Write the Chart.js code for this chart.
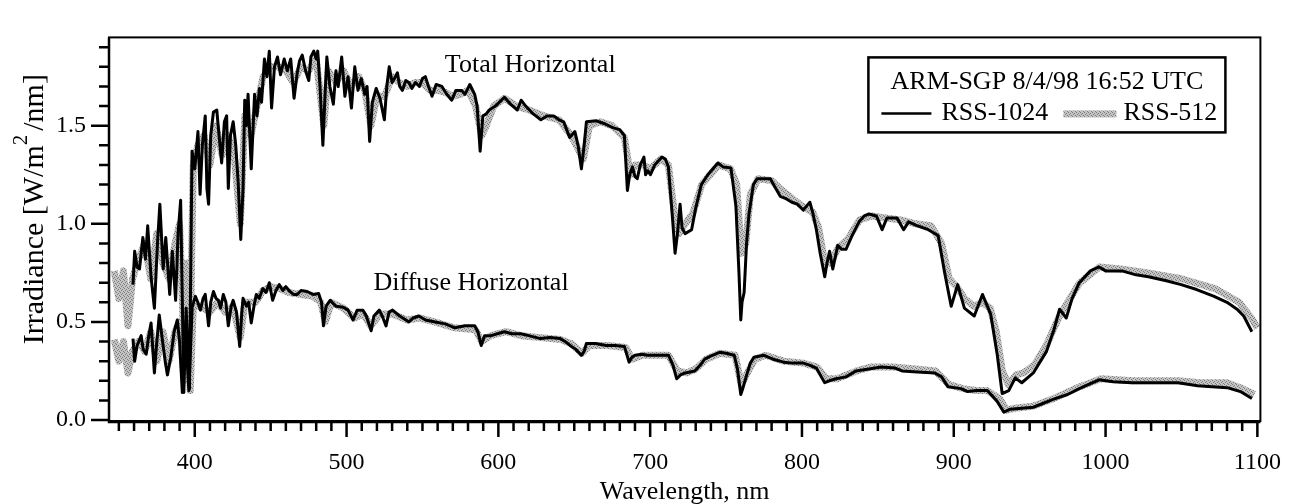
<!DOCTYPE html>
<html>
<head>
<meta charset="utf-8">
<script src="https://cdn.jsdelivr.net/npm/chart.js@4.4.1/dist/chart.umd.min.js"></script>
<style>
  html, body { margin: 0; padding: 0; background: #fff; }
  #wrap { width: 1308px; height: 504px; }
</style>
</head>
<body>
<div id="wrap"><canvas id="spectra" width="1308" height="504"></canvas></div>
<script>
// RSS-1024, total horizontal (nm, W/m2/nm)
const totalWl1024 = [
  359.3, 360.4, 362, 363.6, 365.8, 367.5, 369, 371.2, 373.4, 375.5, 377, 379.2, 380.9, 383.5, 385.2, 387.4, 389, 390.7,
  392.8, 394.3, 396.5, 398.2, 400, 402.1, 403.5, 405, 406.9, 408, 409.1, 410.5, 412.3, 414.5, 416, 417.7, 419.5, 421,
  422.1, 423.5, 425.3, 427, 428.6, 430.3, 431.8, 432.9, 434, 435.1, 437.2, 439.4, 441, 442.6, 444, 445.9, 447.5, 449.1,
  450.6, 452.5, 454.5, 456.5, 458.9, 461, 463.2, 465.4, 467.5, 469, 470.8, 473, 475.1, 476.5, 478.4, 480, 481, 482.5,
  484.4, 485.5, 487, 489, 491.3, 493, 494.5, 496.8, 498.9, 501, 503.2, 505.4, 507.5, 509.7, 512, 513.5, 515.2, 517,
  519.5, 522, 524.9, 526.5, 528.1, 530, 531.5, 533.5, 535, 536.8, 539, 541.1, 543, 545.4, 548, 550, 551.9, 554, 556.3,
  559, 562.8, 566, 569.3, 572, 575.8, 578, 581.2, 584.4, 586, 588, 589.8, 592, 594, 598, 604, 608, 612.5, 615, 618,
  623, 628, 632, 636.4, 640, 643, 647, 650.4, 652.5, 654.7, 656.5, 658, 664.5, 670, 675.3, 680, 683, 685, 686.5, 688.3,
  690, 691.5, 693.5, 695.9, 697, 698.5, 700.2, 703, 707.8, 710, 712, 714.5, 716.4, 718, 719.7, 721, 723, 727.3, 730,
  733.7, 738, 744.6, 748, 753.2, 756.5, 758.5, 759.7, 760.5, 761.9, 763.5, 765.1, 768, 770.5, 775, 779.2, 782, 785.7,
  789, 793.3, 797, 800.8, 803, 805.2, 807, 809.5, 812, 815, 816.5, 818.2, 820.3, 823.6, 826, 829, 833, 837.6, 841,
  844.1, 849, 852.8, 856, 862.6, 867, 870.2, 876, 883.2, 889.7, 894, 898.3, 902.6, 907, 913.5, 918.9, 924.3, 928.6,
  931.9, 936.2, 940.5, 944.8, 952.4, 961.1, 966, 969.7, 974.1, 978, 982.7, 990, 995.7, 1000, 1010.9, 1020, 1028.2,
  1040, 1049.8, 1060, 1071.5, 1080, 1086.6, 1091, 1096.4
];
const totalIrr1024 = [
  0.69, 0.86, 0.78, 0.77, 0.93, 0.82, 0.99, 0.73, 0.57, 0.91, 1.10, 0.77, 0.93, 0.64, 0.86, 0.61, 0.95, 1.12,
  0.14, 0.57, 0.16, 1.37, 1.28, 1.47, 1.15, 1.40, 1.55, 1.18, 1.10, 1.45, 1.57, 1.58, 1.45, 1.31, 1.52, 1.55,
  1.18, 1.45, 1.52, 1.40, 1.21, 0.92, 1.18, 1.63, 1.50, 1.66, 1.28, 1.66, 1.55, 1.69, 1.62, 1.84, 1.75, 1.88,
  1.59, 1.80, 1.85, 1.76, 1.84, 1.78, 1.84, 1.64, 1.77, 1.83, 1.86, 1.78, 1.73, 1.85, 1.88, 1.84, 1.88, 1.70,
  1.40, 1.60, 1.85, 1.70, 1.61, 1.78, 1.70, 1.85, 1.65, 1.75, 1.59, 1.80, 1.68, 1.74, 1.66, 1.70, 1.42, 1.62,
  1.69, 1.64, 1.53, 1.70, 1.80, 1.72, 1.74, 1.77, 1.70, 1.68, 1.73, 1.72, 1.69, 1.72, 1.70, 1.74, 1.75, 1.70, 1.65,
  1.71, 1.70, 1.66, 1.63, 1.68, 1.68, 1.66, 1.71, 1.66, 1.60, 1.37, 1.55, 1.56, 1.58, 1.60, 1.645, 1.61, 1.58, 1.63, 1.60,
  1.56, 1.53, 1.55, 1.55, 1.53, 1.52, 1.44, 1.47, 1.40, 1.28, 1.40, 1.52, 1.525, 1.51, 1.49, 1.48, 1.45, 1.17, 1.25, 1.29,
  1.24, 1.23, 1.30, 1.34, 1.25, 1.27, 1.25, 1.30, 1.34, 1.33, 1.29, 1.05, 0.85, 0.95, 1.10, 0.98, 0.95, 0.97, 1.08,
  1.20, 1.25, 1.31, 1.29, 1.285, 1.09, 0.75, 0.51, 0.60, 0.65, 0.90, 1.05, 1.20, 1.23, 1.23, 1.23, 1.19, 1.14,
  1.13, 1.11, 1.10, 1.07, 1.09, 1.11, 1.06, 0.97, 0.85, 0.73, 0.80, 0.86, 0.77, 0.89, 0.87, 0.87, 0.94, 1.01, 1.04,
  1.05, 1.04, 0.97, 1.03, 1.03, 0.97, 1.01, 0.99, 0.97, 0.94, 0.75, 0.58, 0.69, 0.57, 0.53, 0.64, 0.54, 0.335,
  0.135, 0.15, 0.215, 0.19, 0.24, 0.35, 0.46, 0.565, 0.52, 0.62, 0.70, 0.76, 0.78, 0.76, 0.76, 0.74, 0.73,
  0.71, 0.69, 0.665, 0.63, 0.60, 0.565, 0.53, 0.45
];

// RSS-1024, diffuse horizontal
const diffWl1024 = [
  359.3, 360.4, 362, 364.7, 366, 368, 369.5, 371.2, 373.4, 375, 376.6, 378.8, 380.5, 382, 384.2, 386.4, 388.5, 390,
  391.8, 393, 394, 395, 396.1, 398.3, 400.4, 402, 403.7, 405.5, 406.9, 409.1, 410.5, 412.3, 414, 415.6, 417, 418.8,
  420.5, 422.1, 424, 425.3, 427.5, 429.6, 431, 431.8, 434, 435.5, 437.2, 439, 440.5, 442.5, 444.8, 447, 449.1, 451.3,
  453.5, 455.6, 458, 460, 462.1, 465, 467.5, 470, 474, 478, 481.6, 483.5, 484.8, 486.5, 489.2, 493, 497.8, 501, 504.3,
  507, 510.8, 513, 516.2, 518, 521.6, 524, 526, 528, 530.3, 535, 541.1, 544, 547.6, 552, 558.4, 565, 571.4, 578, 584.4,
  586.5, 588.7, 590.9, 595.2, 603.9, 609, 614.7, 620, 627.7, 634, 640.7, 644, 647.2, 651, 654.7, 656.5, 658, 664, 671,
  677, 683, 686.1, 688, 690, 694.8, 698, 701.3, 706, 712.1, 715, 717.5, 720, 723, 729.4, 733, 735.9, 741, 745.7, 750,
  755.4, 757.5, 759.7, 761, 764, 766, 768.4, 774.9, 781, 787.9, 794, 800.8, 805, 809.5, 812, 815, 818, 822.5, 829,
  835.5, 844.1, 852, 861.5, 865.8, 876, 887.5, 892, 896.1, 904.8, 909.1, 915, 922.1, 928.6, 933, 937.3, 952.4, 965.4,
  975, 982.7, 990, 995.7, 1005, 1017.4, 1030, 1047.7, 1060.6, 1070, 1080.1, 1088.8, 1096.4
];
const diffIrr1024 = [
  0.415, 0.30, 0.38, 0.43, 0.36, 0.335, 0.42, 0.495, 0.24, 0.40, 0.535, 0.40, 0.30, 0.23, 0.32, 0.45, 0.51, 0.40,
  0.14, 0.35, 0.46, 0.30, 0.15, 0.575, 0.63, 0.60, 0.56, 0.62, 0.64, 0.48, 0.60, 0.655, 0.62, 0.61, 0.57, 0.64,
  0.60, 0.48, 0.58, 0.61, 0.55, 0.375, 0.55, 0.62, 0.58, 0.60, 0.495, 0.58, 0.64, 0.62, 0.67, 0.65, 0.70, 0.61,
  0.66, 0.69, 0.66, 0.68, 0.66, 0.64, 0.64, 0.66, 0.655, 0.64, 0.645, 0.60, 0.48, 0.58, 0.61, 0.58, 0.575, 0.56, 0.51,
  0.56, 0.56, 0.53, 0.455, 0.53, 0.56, 0.52, 0.48, 0.55, 0.56, 0.53, 0.50, 0.52, 0.53, 0.51, 0.50, 0.49, 0.47, 0.48, 0.48,
  0.45, 0.38, 0.43, 0.43, 0.45, 0.44, 0.44, 0.43, 0.415, 0.42, 0.415, 0.40, 0.38, 0.36, 0.33, 0.35, 0.39, 0.39, 0.38,
  0.38, 0.375, 0.295, 0.32, 0.33, 0.335, 0.33, 0.33, 0.33, 0.33, 0.28, 0.21, 0.23, 0.24, 0.25, 0.28, 0.31, 0.33, 0.345, 0.34,
  0.33, 0.26, 0.13, 0.16, 0.24, 0.29, 0.32, 0.33, 0.31, 0.295, 0.29, 0.29, 0.28, 0.265, 0.23, 0.19, 0.20, 0.21, 0.22,
  0.25, 0.26, 0.27, 0.265, 0.25, 0.245, 0.24, 0.22, 0.17, 0.16, 0.145, 0.15, 0.15, 0.095, 0.04, 0.055, 0.065, 0.105,
  0.13, 0.16, 0.185, 0.205, 0.195, 0.19, 0.19, 0.19, 0.175, 0.17, 0.165, 0.145, 0.11
];

// RSS-512, total horizontal
const totalWl512 = [
  347, 350, 353, 356, 359, 363, 367, 371, 375, 379, 383, 387, 390, 393, 395, 397, 399, 402, 406, 410, 414, 418, 422,
  426, 430, 433, 437, 441, 445, 450, 455, 460, 465, 470, 475, 480, 485, 488, 493, 498, 503, 508, 512, 516, 520, 525,
  530, 535, 540, 545, 550, 555, 560, 565, 570, 575, 580, 585, 589, 592, 597, 604, 612, 620, 630, 640, 647, 650, 656,
  660, 667, 675, 683, 687, 690, 695, 700, 707, 712, 716, 719, 723, 728, 734, 745, 753, 757, 760, 763, 766, 771, 780,
  787, 795, 802, 807, 811, 815, 819, 824, 830, 838, 846, 855, 865, 875, 885, 892, 897, 902, 907, 913, 919, 924, 928,
  932, 936, 941, 946, 953, 961, 969, 975, 983, 996, 1010, 1028, 1050, 1072, 1088, 1096, 1100
];
const totalIrr512 = [
  0.76, 0.62, 0.76, 0.48, 0.72, 0.82, 0.90, 0.72, 0.95, 0.80, 0.72, 0.90, 1.00, 0.35, 0.80, 0.40, 1.30, 1.40, 1.45, 1.30, 1.50, 1.35, 1.45,
  1.35, 1.00, 1.55, 1.45, 1.60, 1.75, 1.80, 1.80, 1.78, 1.72, 1.80, 1.78, 1.84, 1.50, 1.78, 1.72, 1.78, 1.70, 1.75, 1.68, 1.50, 1.65, 1.65,
  1.75, 1.72, 1.70, 1.72, 1.72, 1.68, 1.68, 1.67, 1.65, 1.66, 1.68, 1.60, 1.45, 1.50, 1.60, 1.64, 1.60, 1.58, 1.55, 1.53, 1.46, 1.42, 1.33,
  1.50, 1.52, 1.50, 1.44, 1.25, 1.30, 1.30, 1.28, 1.33, 1.30, 1.05, 0.95, 1.00, 1.05, 1.20, 1.30, 1.28, 1.20, 0.85, 0.90, 1.15, 1.23, 1.22,
  1.17, 1.12, 1.08, 1.06, 0.98, 0.80, 0.80, 0.88, 0.92, 1.02, 1.04, 1.03, 1.02, 1.00, 0.99, 0.90, 0.72, 0.68, 0.62, 0.58, 0.60, 0.57, 0.45,
  0.25, 0.18, 0.23, 0.24, 0.28, 0.38, 0.52, 0.60, 0.70, 0.78, 0.77, 0.75, 0.72, 0.67, 0.60, 0.52, 0.47
];

// RSS-512, diffuse horizontal
const diffWl512 = [
  347, 350, 353, 356, 359, 363, 367, 371, 375, 379, 383, 387, 390, 393, 395, 397, 399, 404, 410, 415, 420, 425, 430,
  433, 440, 445, 450, 456, 462, 470, 478, 483, 486, 490, 498, 505, 511, 516, 522, 530, 540, 548, 558, 571, 585, 589,
  595, 605, 615, 628, 641, 648, 655, 660, 672, 684, 688, 695, 702, 712, 718, 724, 730, 737, 746, 756, 760, 764, 769,
  776, 788, 801, 810, 816, 823, 836, 845, 860, 875, 888, 897, 906, 915, 922, 930, 935, 940, 952, 966, 983, 997, 1018,
  1048, 1062, 1080, 1090, 1098
];
const diffIrr512 = [
  0.41, 0.30, 0.40, 0.24, 0.35, 0.40, 0.35, 0.45, 0.30, 0.45, 0.30, 0.45, 0.50, 0.20, 0.45, 0.15, 0.58, 0.58, 0.55, 0.60, 0.55, 0.58, 0.42,
  0.60, 0.60, 0.66, 0.68, 0.67, 0.65, 0.64, 0.63, 0.60, 0.50, 0.60, 0.57, 0.52, 0.54, 0.48, 0.54, 0.54, 0.51, 0.52, 0.50, 0.47, 0.46, 0.40,
  0.43, 0.45, 0.43, 0.42, 0.41, 0.39, 0.34, 0.38, 0.38, 0.37, 0.31, 0.33, 0.33, 0.33, 0.25, 0.24, 0.26, 0.31, 0.34, 0.33, 0.18, 0.24, 0.31,
  0.33, 0.30, 0.29, 0.27, 0.21, 0.21, 0.25, 0.27, 0.27, 0.26, 0.25, 0.18, 0.16, 0.15, 0.15, 0.11, 0.05, 0.06, 0.07, 0.11, 0.17, 0.21, 0.20,
  0.20, 0.19, 0.19, 0.16, 0.13
];

const xTickStep = 100;   // labelled wavelength ticks
const yTickStep = 0.5;   // labelled irradiance ticks
const serif = "'Liberation Serif', 'Times New Roman', serif";

const toPoints = (xs, ys) => xs.map((x, i) => ({ x: x, y: ys[i] }));

const canvas = document.getElementById("spectra");
const ctx = canvas.getContext("2d");

// stippled grey like the printed RSS-512 trace
function stipple() {
    const c = document.createElement("canvas");
    c.width = 4; c.height = 4;
    const g = c.getContext("2d");
    g.fillStyle = "#c4c4c4";
    g.fillRect(0, 0, 4, 4);
    g.fillStyle = "#7c7c7c";
    g.fillRect(0, 0, 1, 1); g.fillRect(2, 1, 1, 1); g.fillRect(1, 2, 1, 1); g.fillRect(3, 3, 1, 1);
    return ctx.createPattern(c, "repeat");
}
const grey = stipple();

const lineStyle = {
    black: { borderColor: "#000", borderWidth: 3, order: 0 },
    grey: { borderColor: grey, borderWidth: 7, order: 1 }
};

// frame, minor ticks, y title, labels and legend box
const decorations = {
    id: "decorations",
    afterDraw(chart) {
        const { ctx, chartArea: a, scales: { x, y } } = chart;
        ctx.save();
        ctx.strokeStyle = "#000";
        ctx.lineCap = "butt";

        ctx.lineWidth = 2;
        ctx.strokeRect(a.left, a.top, a.right - a.left, a.bottom - a.top);
        ctx.lineWidth = 2.5;
        ctx.beginPath();
        ctx.moveTo(a.left, a.top); ctx.lineTo(a.left, a.bottom + 1); ctx.lineTo(a.right, a.bottom + 1);
        ctx.stroke();

        ctx.beginPath();
        for (let v = 350; v <= 1100; v += 10) {
            const px = x.getPixelForValue(v);
            const len = v % xTickStep === 0 ? 15 : 9;
            ctx.moveTo(px, a.bottom + 1); ctx.lineTo(px, a.bottom + 1 + len);
        }
        for (let k = 0; k <= 19; k++) {
            const py = y.getPixelForValue(k / 10);
            const len = k % 5 === 0 ? 18 : 10;
            ctx.moveTo(a.left, py); ctx.lineTo(a.left - len, py);
        }
        ctx.stroke();

        // y axis title with superscript
        ctx.fillStyle = "#000";
        ctx.translate(35, (a.top + a.bottom) / 2 - 20);
        ctx.rotate(-Math.PI / 2);
        ctx.textBaseline = "middle";
        ctx.textAlign = "left";
        const p1 = "Irradiance [W/m", p2 = "/nm]";
        ctx.font = "30px " + serif;
        const w1 = ctx.measureText(p1).width, w3 = ctx.measureText(p2).width;
        ctx.font = "21px " + serif;
        const w2 = ctx.measureText("2").width;
        let cx = -(w1 + w2 + 4 + w3) / 2;
        ctx.font = "30px " + serif;
        ctx.fillText(p1, cx, 0);
        cx += w1;
        ctx.font = "21px " + serif;
        ctx.fillText("2", cx, -14);
        cx += w2 + 4;
        ctx.font = "30px " + serif;
        ctx.fillText(p2, cx, 0);
        ctx.setTransform(1, 0, 0, 1, 0, 0);

        // curve labels
        ctx.font = "26px " + serif;
        ctx.textAlign = "center";
        ctx.textBaseline = "middle";
        ctx.fillText("Total Horizontal", x.getPixelForValue(621), y.getPixelForValue(1.81));
        ctx.fillText("Diffuse Horizontal", x.getPixelForValue(582), y.getPixelForValue(0.695));

        // legend box
        const bx = a.right - 392, by = a.top + 20, bw = 357, bh = 75;
        ctx.fillStyle = "#fff";
        ctx.fillRect(bx, by, bw, bh);
        ctx.lineWidth = 2.5;
        ctx.strokeRect(bx, by, bw, bh);
        ctx.fillStyle = "#000";
        ctx.fillText("ARM-SGP 8/4/98 16:52 UTC", bx + bw / 2, by + 25);
        const ds = chart.data.datasets;
        const rowY = by + 56;
        ctx.beginPath();
        ctx.moveTo(bx + 13, rowY); ctx.lineTo(bx + 63, rowY);
        ctx.stroke();
        ctx.textAlign = "left";
        ctx.fillText(ds[0].label, bx + 73, rowY);
        ctx.fillStyle = ds[1].borderColor;
        ctx.fillRect(bx + 195, rowY - 3, 53, 7);
        ctx.fillStyle = "#000";
        ctx.fillText(ds[1].label, bx + 255, rowY);
        ctx.restore();
    }
};

new Chart(ctx, {
    type: "line",
    data: {
        datasets: [
            { label: "RSS-1024", data: toPoints(totalWl1024, totalIrr1024), ...lineStyle.black },
            { label: "RSS-512", data: toPoints(totalWl512, totalIrr512), ...lineStyle.grey },
            { label: "RSS-1024 diffuse", data: toPoints(diffWl1024, diffIrr1024), ...lineStyle.black },
            { label: "RSS-512 diffuse", data: toPoints(diffWl512, diffIrr512), ...lineStyle.grey }
        ]
    },
    options: {
        responsive: false,
        animation: false,
        devicePixelRatio: 1,
        layout: { padding: { top: 13, right: 31, left: 0, bottom: 0 } },
        elements: {
            point: { radius: 0, hoverRadius: 0 },
            line: { tension: 0, fill: false, borderJoinStyle: "round", borderCapStyle: "butt" }
        },
        plugins: {
            legend: { display: false },
            tooltip: { enabled: false }
        },
        scales: {
            x: {
                type: "linear",
                min: 343.5,
                max: 1102,
                afterFit: s => { s.height = 83; },
                grid: { display: false, drawTicks: false },
                border: { display: false },
                ticks: {
                    stepSize: xTickStep, includeBounds: false, autoSkip: false, maxRotation: 0,
                    padding: 27, color: "#000", font: { family: serif, size: 24 },
                    callback: v => String(v)
                },
                title: {
                    display: true, text: "Wavelength, nm", color: "#000",
                    font: { family: serif, size: 26, lineHeight: 1 }, padding: { top: 0, bottom: -1 }
                }
            },
            y: {
                type: "linear",
                min: -0.005,
                max: 1.95,
                afterFit: s => { s.width = 109; },
                grid: { display: false, drawTicks: false },
                border: { display: false },
                ticks: {
                    stepSize: yTickStep, includeBounds: false, padding: 23, color: "#000",
                    font: { family: serif, size: 24 },
                    callback: v => v.toFixed(1)
                }
            }
        }
    },
    plugins: [decorations]
});
</script>
</body>
</html>
